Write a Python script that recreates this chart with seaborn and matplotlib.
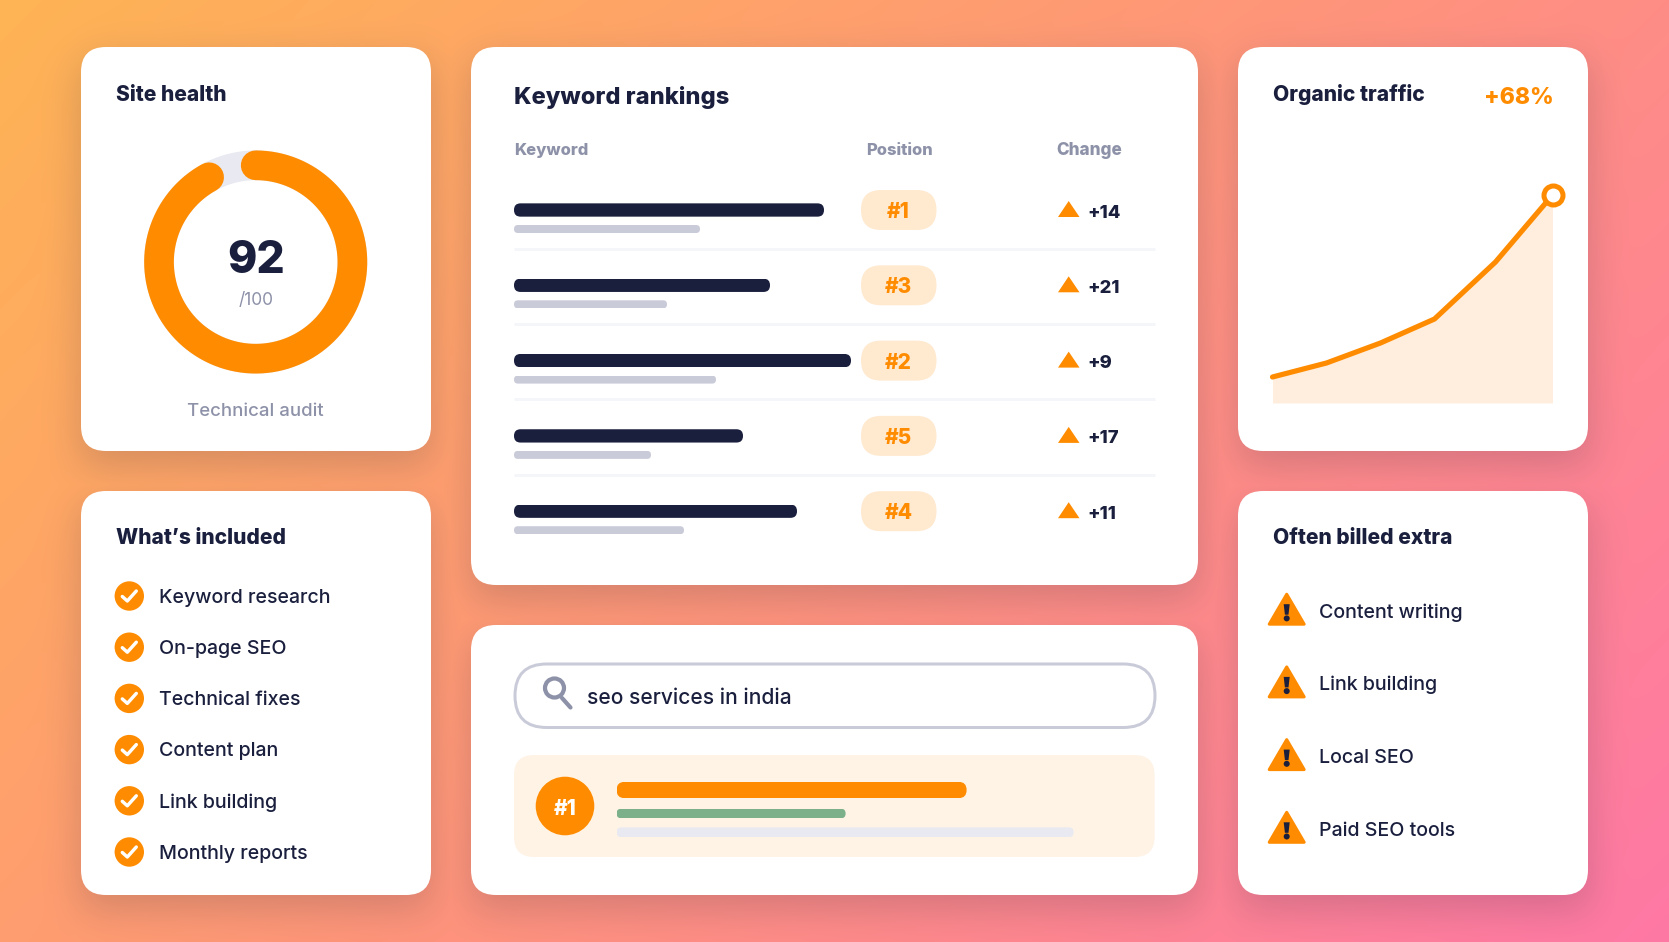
import math
import numpy as np
import pandas as pd
import matplotlib
matplotlib.use("Agg")
import matplotlib.pyplot as plt
from matplotlib.patches import FancyBboxPatch, Polygon, Circle
from matplotlib.colors import to_rgb
import seaborn as sns

# ---------- data ----------
health_score = 92
health_max = 100
health_label = "Technical audit"
rank_positions = [1, 3, 2, 5, 4]
rank_changes = [14, 21, 9, 17, 11]
keyword_lengths = [310, 256, 337, 229, 283]
keyword_sub_lengths = [186, 153, 202, 137, 170]
traffic_steps = [0, 54, 108, 162, 223, 280]
traffic_values = [26, 40, 60, 84, 141, 208]
traffic_change = "+68%"
included_items = ["Keyword research", "On-page SEO", "Technical fixes",
                  "Content plan", "Link building", "Monthly reports"]
extra_items = ["Content writing", "Link building", "Local SEO", "Paid SEO tools"]
search_query = "seo services in india"
snippet_lengths = [350, 229, 457]

# ---------- style ----------
ORANGE = "#FF8C00"
NAVY = "#1A1F3D"
GREY = "#8E92A9"
BAR_GREY = "#C9CBD9"
TRACK = "#E8E9F1"
PILL = "#FFE9CF"
CREAM = "#FFF3E6"
FILL = "#FFEEDD"
GREEN = "#7CB08A"
RULE = "#F5F6F9"
W, H = 1669, 942
PX = 72 / 100  # points per pixel
HEAVY = 800
MEDIUM = 500

sns.set_theme(style="white")
plt.rcParams["font.family"] = ["Inter", "DejaVu Sans"]

fig = plt.figure(figsize=(W / 100, H / 100), dpi=100)
main = fig.add_axes([0, 0, 1, 1])
main.set_xlim(0, W)
main.set_ylim(H, 0)
main.set_axis_off()

# ---------- cards ----------
cards = [(81, 47, 350, 404), (81, 491, 350, 404),
         (471, 47, 727, 538), (471, 625, 727, 270),
         (1238, 47, 350, 404), (1238, 491, 350, 404)]

# gradient background with soft card shadows
xx = np.arange(W) + 0.5
yy = np.arange(H) + 0.5
X, Y = np.meshgrid(xx, yy)
t = (X + Y) / (W + H)
stops = [to_rgb("#FFB454"), to_rgb("#FF957A"), to_rgb("#FF78A5")]
img = np.dstack([np.interp(t, [0, .5, 1], [s[c] for s in stops]) for c in range(3)])
erf = np.vectorize(math.erf)
shadow = np.zeros((H, W))
sig = 20
for (cx, cy, cw, ch) in cards:
    sx = 0.5 * (erf((xx - cx) / (sig * 2**.5)) - erf((xx - cx - cw) / (sig * 2**.5)))
    sy = 0.5 * (erf((yy - cy - 14) / (sig * 2**.5)) - erf((yy - cy - 14 - ch) / (sig * 2**.5)))
    shadow = np.maximum(shadow, np.outer(sy, sx))
alpha = 0.19 * shadow[..., None]
img = img * (1 - alpha) + np.array(to_rgb(NAVY)) * alpha
main.imshow(img, extent=(0, W, H, 0), aspect="auto", zorder=0, interpolation="nearest")
main.set_xlim(0, W)
main.set_ylim(H, 0)


def rrect(x, y, w, h, r, color, z=2, **kw):
    p = FancyBboxPatch((x + r, y + r), w - 2 * r, h - 2 * r,
                       boxstyle=f"round,pad={r},rounding_size={r}",
                       facecolor=color, edgecolor=kw.pop("edgecolor", "none"),
                       linewidth=kw.pop("linewidth", 0), zorder=z, **kw)
    main.add_patch(p)
    return p


def label(x, y, s, size, color=NAVY, weight=MEDIUM, ha="left", z=6):
    return main.text(x, y, s, fontsize=size, color=color, fontweight=weight,
                     ha=ha, va="baseline", zorder=z)


def round_bar(bar):
    """Give a drawn bar rounded ends by clipping it to a pill of its own extent."""
    bb = bar.get_window_extent(fig.canvas.get_renderer())
    (x0, y0), (x1, y1) = main.transData.inverted().transform([(bb.x0, bb.y0), (bb.x1, bb.y1)])
    top, bot = min(y0, y1), max(y0, y1)
    h = bot - top
    r = h * 0.49
    clip = FancyBboxPatch((x0 + r, top + r), x1 - x0 - 2 * r, h - 2 * r,
                          boxstyle=f"round,pad={r},rounding_size={r}",
                          transform=main.transData)
    bar.set_clip_path(clip)


for (cx, cy, cw, ch) in cards:
    rrect(cx, cy, cw, ch, 25, "white")

TITLE = 15.1
ITEM = 14.1

# ---------- site health ----------
label(115.7, 101, "Site health", TITLE, weight=HEAVY)
dcx, dcy, dr, dlw = 255.7, 262, 96.7, 29.7
ring = np.linspace(0, 2 * np.pi, 361)
main.plot(dcx + dr * np.sin(ring), dcy - dr * np.cos(ring), color=TRACK, lw=dlw * PX, zorder=3)
arc = np.linspace(0, health_score / health_max * 2 * np.pi, 361)
main.plot(dcx + dr * np.sin(arc), dcy - dr * np.cos(arc), color=ORANGE, lw=dlw * PX,
          solid_capstyle="round", zorder=4)
label(dcx, 272.7, str(health_score), 32, weight=HEAVY, ha="center")
label(dcx, 305, f"/{health_max}", 12.5, color=GREY, weight="normal", ha="center")
label(dcx, 415.7, health_label, 13.4, color=GREY, ha="center")

# ---------- what's included ----------
label(115.7, 544.3, "What\u2019s included", TITLE, weight=HEAVY)
for i, item in enumerate(included_items):
    cy = 596 + i * 51.2
    main.add_patch(Circle((129.3, cy), 14.7, facecolor=ORANGE, edgecolor="none", zorder=3))
    main.plot([129.3 - 7, 129.3 - 2, 129.3 + 7], [cy + 0.5, cy + 5, cy - 5], color="white",
              lw=3.4 * PX, solid_capstyle="round", solid_joinstyle="round", zorder=4)
    label(159.3, cy + 6.7, item, ITEM)

# ---------- keyword rankings ----------
label(514, 104, "Keyword rankings", 17.0, weight=HEAVY)
label(514, 155, "Keyword", 11.9, color=GREY, weight=HEAVY)
label(866, 155, "Position", 11.9, color=GREY, weight=HEAVY)
label(1056.5, 155, "Change", 12.3, color=GREY, weight=HEAVY)

row_y0, row_step = 210, 75.3
row_names = [f"#{p}" for p in rank_positions]
bars = pd.DataFrame({"keyword": row_names, "length": keyword_lengths, "sub": keyword_sub_lengths})
for col, top_y, height, colour in [("length", row_y0, 13.3, NAVY), ("sub", row_y0 + 19, 8, BAR_GREY)]:
    ax = fig.add_axes([514 / W, 1 - (top_y - row_step / 2 + 5 * row_step) / H,
                       640 / W, 5 * row_step / H])
    sns.barplot(data=bars, y="keyword", x=col, ax=ax, color=colour, saturation=1,
                width=height / row_step, linewidth=0, orient="h")
    ax.set_xlim(0, 640)
    ax.set_ylim(4.5, -0.5)
    ax.set_axis_off()
    ax.patch.set_alpha(0)
    for p in ax.patches:
        round_bar(p)

for i, (pos, chg) in enumerate(zip(rank_positions, rank_changes)):
    yc = row_y0 + i * row_step
    rrect(861, yc - 20, 75.5, 40, 20, PILL, z=3)
    label(898.7, yc + 8, f"#{pos}", 15, color=ORANGE, weight=HEAVY, ha="center")
    main.add_patch(Polygon([(1058, yc + 7), (1068.7, yc - 9), (1079.5, yc + 7)],
                           closed=True, facecolor=ORANGE, edgecolor="none", zorder=3))
    label(1087, yc + 7.5, f"+{chg}", 13.2, weight=HEAVY)
    if i < 4:
        main.plot([514, 1154.6], [yc + 38.7] * 2, color=RULE, lw=3 * PX,
                  solid_capstyle="butt", zorder=3)

# ---------- search card ----------
rrect(515, 664, 640, 63.5, 31.7, "white", z=3, edgecolor=BAR_GREY, linewidth=3 * PX)
main.add_patch(Circle((554.5, 688), 9.5, facecolor="none", edgecolor=GREY, linewidth=4.2 * PX, zorder=4))
main.plot([562, 570.5], [698, 707.5], color=GREY, lw=4.2 * PX, solid_capstyle="round", zorder=4)
label(587, 704, search_query, 15.1)

rrect(514, 755, 640.6, 102, 20, CREAM, z=3)
main.add_patch(Circle((565, 806), 29.3, facecolor=ORANGE, edgecolor="none", zorder=4))
label(565, 814.8, "#1", 15, color="white", weight=HEAVY, ha="center")
for length, yc, h, colour in zip(snippet_lengths, [790, 813.5, 832.2], [16.3, 9.6, 9.7],
                                 [ORANGE, GREEN, TRACK]):
    cont = main.barh(yc, length, height=h, left=616.6, color=colour, linewidth=0, zorder=5)
    round_bar(cont[0])

# ---------- organic traffic ----------
label(1273.3, 100.7, "Organic traffic", TITLE, weight=HEAVY)
label(1554, 104.3, traffic_change, 16.6, color=ORANGE, weight=HEAVY, ha="right")
tax = fig.add_axes([1272.5 / W, 1 - 403 / H, 280 / W, 208 / H])
traffic = pd.DataFrame({"step": traffic_steps, "visits": traffic_values})
tax.fill_between(traffic_steps, traffic_values, 0, color=FILL, linewidth=0, zorder=1)
sns.lineplot(data=traffic, x="step", y="visits", ax=tax, color=ORANGE, linewidth=5.2 * PX,
             solid_capstyle="round", solid_joinstyle="round", clip_on=False, zorder=2,
             errorbar=None)
tax.plot(traffic_steps[-1:], traffic_values[-1:], marker="o", ms=19 * PX, mfc="white",
         mec=ORANGE, mew=5 * PX, clip_on=False, zorder=3, linestyle="none")
tax.set_xlim(0, 280)
tax.set_ylim(0, 208)
tax.set_axis_off()
tax.patch.set_alpha(0)

# ---------- often billed extra ----------
label(1273.3, 544.3, "Often billed extra", TITLE, weight=HEAVY)
for i, item in enumerate(extra_items):
    top = 592.7 + i * 72.7
    cx = 1286.7
    main.add_patch(Polygon([(cx, top + 1.5), (cx + 17.5, top + 31.5), (cx - 17.5, top + 31.5)],
                           closed=True, facecolor=ORANGE, edgecolor=ORANGE,
                           linewidth=3 * PX, joinstyle="round", zorder=3))
    main.add_patch(Polygon([(cx - 3, top + 11.5), (cx + 3, top + 11.5),
                            (cx + 1.8, top + 22), (cx - 1.8, top + 22)],
                           closed=True, facecolor=NAVY, edgecolor="none", zorder=4))
    main.add_patch(Circle((cx, top + 25.7), 3, facecolor=NAVY, edgecolor="none", zorder=4))
    label(1319.3, top + 25, item, 14.1)

fig.savefig("out.png", dpi=100)
